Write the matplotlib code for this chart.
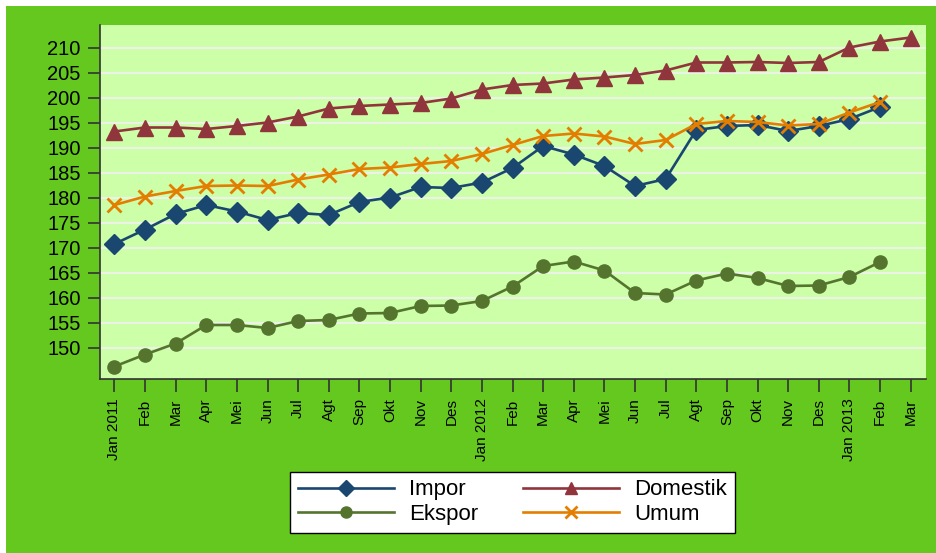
import matplotlib
matplotlib.use("Agg")
import matplotlib.pyplot as plt
from matplotlib.patches import Rectangle

months = ["Jan 2011", "Feb", "Mar", "Apr", "Mei", "Jun", "Jul", "Agt", "Sep", "Okt", "Nov", "Des",
          "Jan 2012", "Feb", "Mar", "Apr", "Mei", "Jun", "Jul", "Agt", "Sep", "Okt", "Nov", "Des",
          "Jan 2013", "Feb", "Mar"]

impor = [170.7, 173.6, 176.7, 178.5, 177.2, 175.5, 176.9, 176.5, 179.1, 180.0, 182.1, 181.9,
         183.0, 185.9, 190.3, 188.6, 186.3, 182.3, 183.7, 193.5, 194.3, 194.5, 193.3, 194.3,
         195.7, 198.1]
domestik = [193.2, 194.0, 194.0, 193.7, 194.3, 195.0, 196.2, 197.8, 198.3, 198.6, 198.9, 199.8,
            201.6, 202.5, 202.8, 203.6, 204.0, 204.5, 205.4, 207.0, 207.0, 207.1, 206.9, 207.1,
            210.0, 211.2, 212.0]
ekspor = [146.2, 148.6, 150.8, 154.5, 154.5, 153.9, 155.3, 155.5, 156.8, 156.9, 158.3, 158.4,
          159.3, 162.2, 166.3, 167.2, 165.4, 160.9, 160.6, 163.4, 164.8, 163.9, 162.3, 162.4,
          164.1, 167.1]
umum = [178.5, 180.2, 181.3, 182.3, 182.4, 182.3, 183.6, 184.6, 185.7, 186.0, 186.7, 187.3,
        188.7, 190.5, 192.3, 192.8, 192.2, 190.7, 191.5, 194.7, 195.3, 195.1, 194.4, 194.7,
        197.0, 199.1]
yticks = [150, 155, 160, 165, 170, 175, 180, 185, 190, 195, 200, 205, 210]

plt.rcParams['font.family'] = ['Liberation Sans', 'DejaVu Sans']

W, H = 937, 553
fig = plt.figure(figsize=(W / 100, H / 100), dpi=100)
fig.patch.set_facecolor("white")
fig.patches.append(Rectangle((6 / W, 0), 1 - 6 / W, 1 - 6 / H, transform=fig.transFigure,
                             facecolor="#64c81f", edgecolor="none", zorder=-10))

ax = fig.add_axes([100 / W, (H - 379) / H, (926 - 100) / W, (379 - 25) / H])
ax.set_facecolor("#ccffa8")

c_imp, c_dom, c_eks, c_umu = "#1a476f", "#90353b", "#55752f", "#e37e00"
x_all = list(range(len(months)))

l_imp, = ax.plot(x_all[:len(impor)], impor, color=c_imp, lw=1.9, marker="D", ms=10, label="Impor", zorder=4)
l_dom, = ax.plot(x_all[:len(domestik)], domestik, color=c_dom, lw=1.9, marker="^", ms=11, label="Domestik", zorder=3)
l_eks, = ax.plot(x_all[:len(ekspor)], ekspor, color=c_eks, lw=1.9, marker="o", ms=9.5, label="Ekspor", zorder=3)
l_umu, = ax.plot(x_all[:len(umum)], umum, color=c_umu, lw=1.9, marker="x", ms=10, mew=2, label="Umum", zorder=5)

ax.set_xlim(-0.47, 26.5)
ax.set_ylim(143.7, 214.5)
ax.set_yticks(yticks)
ax.set_yticklabels([str(v) for v in yticks], fontsize=14.5)
ax.set_xticks(x_all)
ax.set_xticklabels(months, rotation=90, fontsize=11)
ax.tick_params(axis="both", length=9, width=1.2, color="#333333", pad=5)
ax.yaxis.grid(True, color="#ecf3e6", lw=1.6)
ax.set_axisbelow(True)
for s in ["top", "right"]:
    ax.spines[s].set_visible(False)
for s in ["left", "bottom"]:
    ax.spines[s].set_color("#333333")
    ax.spines[s].set_linewidth(1.2)

leg = fig.legend([l_imp, l_eks, l_dom, l_umu], ["Impor", "Ekspor", "Domestik", "Umum"],
                 ncol=2, loc="center", bbox_to_anchor=(0.547, 0.092), fontsize=16,
                 frameon=True, fancybox=False, edgecolor="black", facecolor="white",
                 framealpha=1.0, handlelength=4.3, handletextpad=0.7, columnspacing=2.0,
                 borderpad=0.35, labelspacing=0.15)
leg.get_frame().set_linewidth(1.0)
for h in leg.legend_handles:
    h.set_markersize(8)

fig.savefig("out.png", dpi=100, facecolor=fig.get_facecolor())
